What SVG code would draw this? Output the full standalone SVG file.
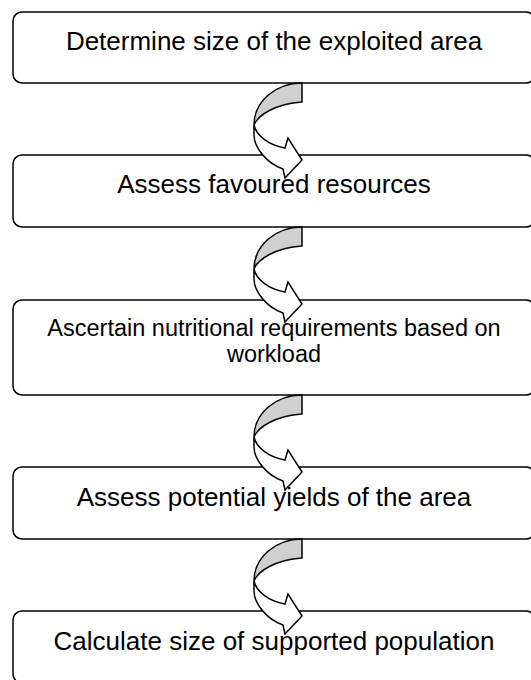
<svg xmlns="http://www.w3.org/2000/svg" xmlns:xlink="http://www.w3.org/1999/xlink" width="531" height="680" viewBox="0 0 531 680">
<style>
.box{fill:#fff;stroke:#000;stroke-width:1.5}
.t{font-family:"Liberation Sans",Arial,sans-serif;font-size:26px;fill:#000;text-anchor:middle}
.ts{font-family:"Liberation Sans",Arial,sans-serif;font-size:23.5px;fill:#000;text-anchor:middle}
.back{fill:#d0d0d0;stroke:#000;stroke-width:1.5;stroke-linejoin:miter}
.front{fill:#fff;stroke:#000;stroke-width:1.5;stroke-linejoin:miter}
</style>
<defs>
<g id="curl">
<path class="back" d="M302,0 C275.5,0 254,18.8 254,42 C258,32 275,21 302,19 Z"/>
<path class="front" d="M254,42 L254,52 C254,64 266,80 283,86 L285,95 L302,77 L288,55 L285,65 C268,62 256,52 254,42 Z"/>
</g>
</defs>
<rect width="531" height="680" fill="#fff"/>
<g id="node1"><rect class="box" x="13" y="12" width="522" height="71" rx="9"/><text class="t" x="274" y="50">Determine size of the exploited area</text></g>
<g id="node2"><rect class="box" x="13" y="155" width="522" height="72" rx="9"/><text class="t" x="274" y="193">Assess favoured resources</text></g>
<g id="node3"><rect class="box" x="13" y="300" width="522" height="95" rx="9"/><text class="ts" x="274" y="336">Ascertain nutritional requirements based on</text><text class="ts" x="274" y="361.5">workload</text></g>
<g id="node4"><rect class="box" x="13" y="467" width="522" height="72" rx="9"/><text class="t" x="274" y="505.5">Assess potential yields of the area</text></g>
<g id="node5"><rect class="box" x="13" y="611" width="522" height="72" rx="9"/><text class="t" x="274" y="649.5">Calculate size of supported population</text></g>
<g id="connectors">
<use xlink:href="#curl" transform="translate(0,83)"/>
<use xlink:href="#curl" transform="translate(0,227)"/>
<use xlink:href="#curl" transform="translate(0,395)"/>
<use xlink:href="#curl" transform="translate(0,539)"/>
</g>
</svg>
